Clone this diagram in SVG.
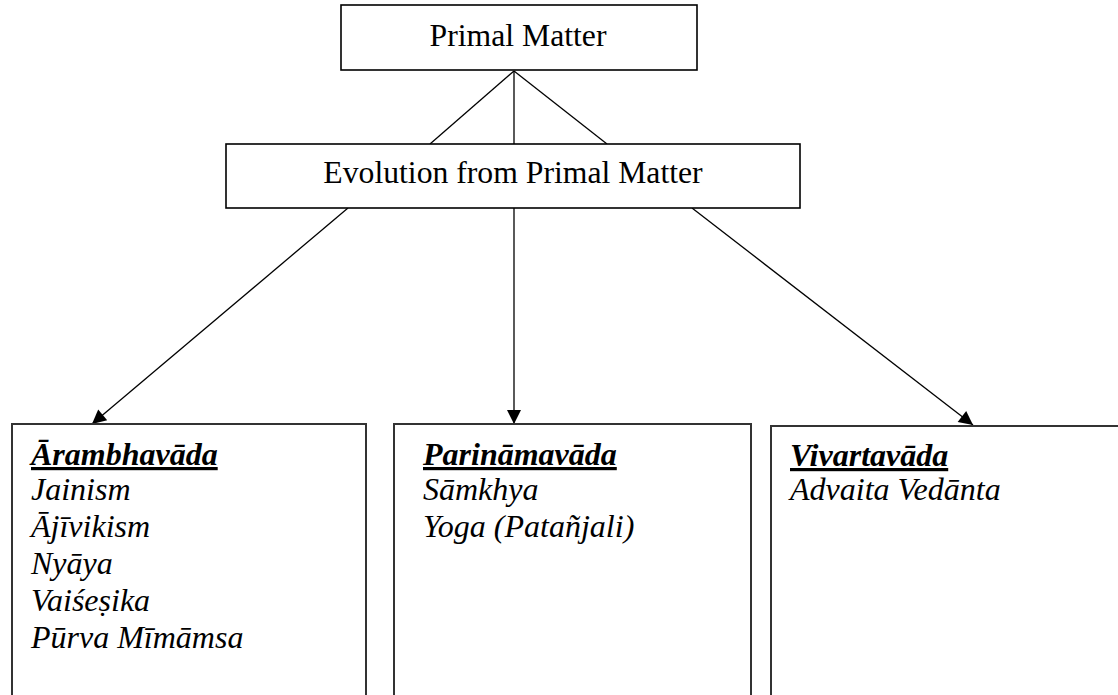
<svg xmlns="http://www.w3.org/2000/svg" width="1118" height="695" viewBox="0 0 1118 695">
  <style>
    .box { fill: #fff; stroke: #000; stroke-width: 1.6; }
    .lbox { fill: #fff; stroke: #333; stroke-width: 2; }
    .t { font-family: "Liberation Serif", "Times New Roman", serif; font-size: 31.7px; fill: #000; }
    .it { font-family: "Liberation Serif", "Times New Roman", serif; font-size: 32px; font-style: italic; fill: #000; }
    .hd { font-weight: bold; text-decoration: underline; text-decoration-thickness: 3px; }
    .c { stroke: #000; stroke-width: 1.3; fill: none; }
  </style>
  <defs>
    <marker id="ah" viewBox="0 0 10 10" refX="10" refY="5" markerUnits="userSpaceOnUse" markerWidth="18" markerHeight="14" orient="auto">
      <path d="M0,0 L10,5 L0,10 z" fill="#000"/>
    </marker>
  </defs>
  <rect width="1118" height="695" fill="#fff"/>

  <g id="connectors">
    <line class="c" x1="514" y1="71" x2="430" y2="144"/>
    <line class="c" x1="514" y1="71" x2="514" y2="144"/>
    <line class="c" x1="514" y1="71" x2="607" y2="144"/>
    <line class="c" x1="348" y1="208" x2="92" y2="424" marker-end="url(#ah)"/>
    <line class="c" x1="514" y1="208" x2="514" y2="424" marker-end="url(#ah)"/>
    <line class="c" x1="692" y1="208" x2="973" y2="425" marker-end="url(#ah)"/>
  </g>

  <g id="primal-matter">
    <rect class="box" x="341" y="5" width="356" height="65"/>
    <text class="t" x="518" y="46" text-anchor="middle">Primal Matter</text>
  </g>

  <g id="evolution">
    <rect class="box" x="226" y="144" width="574" height="64"/>
    <text class="t" x="513" y="183" text-anchor="middle">Evolution from Primal Matter</text>
  </g>

  <g id="arambhavada">
    <rect class="lbox" x="12" y="424" width="354" height="280"/>
    <text class="it hd" x="31" y="465">Ārambhavāda</text>
    <text class="it" x="31" y="500">Jainism</text>
    <text class="it" x="31" y="537">Ājīvikism</text>
    <text class="it" x="31" y="574">Nyāya</text>
    <text class="it" x="31" y="611">Vaiśeṣika</text>
    <text class="it" x="31" y="648">Pūrva Mīmāmsa</text>
  </g>

  <g id="parinamavada">
    <rect class="lbox" x="394" y="424" width="357" height="280"/>
    <text class="it hd" x="423" y="465">Parināmavāda</text>
    <text class="it" x="423" y="500">Sāmkhya</text>
    <text class="it" x="423" y="537">Yoga (Patañjali)</text>
  </g>

  <g id="vivartavada">
    <rect class="lbox" x="771" y="426" width="360" height="280"/>
    <text class="it hd" x="790" y="466">Vivartavāda</text>
    <text class="it" x="790" y="500">Advaita Vedānta</text>
  </g>
</svg>
